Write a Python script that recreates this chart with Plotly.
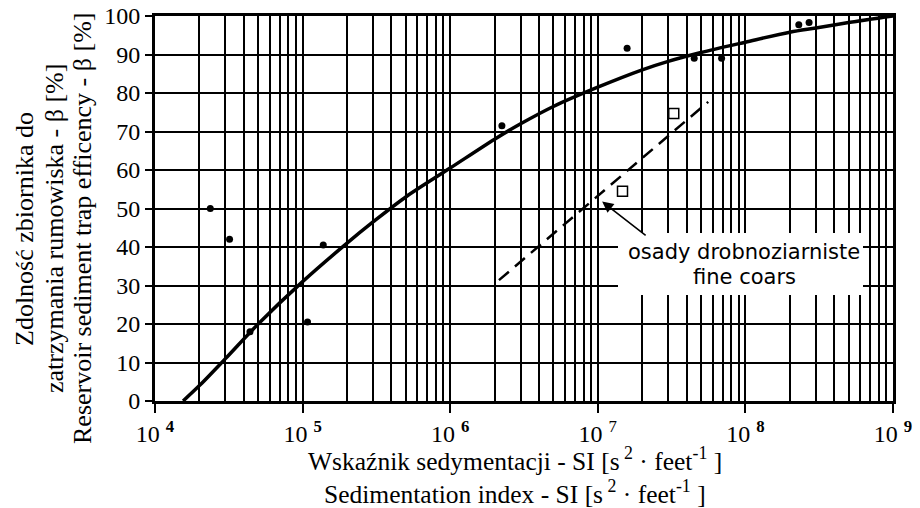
import math
import plotly.graph_objects as go

# ---- data ----
curve_x = [1.55e4, 2e4, 3e4, 5e4, 1e5, 2e5, 3e5, 5e5, 1e6, 2e6, 3e6, 5e6,
           1e7, 2e7, 3e7, 5e7, 1e8, 2e8, 3e8, 5e8, 1e9]
curve_y = [0, 4, 11, 20, 31, 41, 46.5, 53, 60.5, 68, 72, 76.5,
           81.5, 86, 88.2, 90.5, 93.2, 95.8, 96.9, 98.3, 100]

dots_x = [2.37e4, 3.2e4, 4.4e4, 1.08e5, 1.38e5, 2.24e6, 1.58e7, 4.5e7, 6.9e7, 2.3e8, 2.7e8]
dots_y = [50, 42, 18, 20.5, 40.5, 71.5, 91.6, 89, 89, 97.7, 98.3]

squares_x = [1.47e7, 3.27e7]
squares_y = [54.5, 74.7]

dashed_x = [2.14e6, 5.6e7]
dashed_y = [31.4, 77.7]

decades = [1e4, 1e5, 1e6, 1e7, 1e8, 1e9]
decade_labels = ["10 <sup><b>4</b></sup>", "10 <sup><b>5</b></sup>", "10 <sup><b>6</b></sup>",
                 "10 <sup>7</sup>", "10 <sup><b>8</b></sup>", "10 <sup><b>9</b></sup>"]
minor_x = [m * d for d in decades[:-1] for m in range(2, 10)]
y_ticks = list(range(0, 101, 10))

arrow_head = (1.07e7, 51.8)

SERIF = "Liberation Serif, Times New Roman, serif"
SANS = "DejaVu Sans, Arial, sans-serif"

fig = go.Figure()

fig.add_trace(go.Scatter(x=curve_x, y=curve_y, mode="lines",
                         line=dict(color="black", width=3.5, shape="spline", smoothing=0.9),
                         hoverinfo="skip"))
fig.add_trace(go.Scatter(x=dashed_x, y=dashed_y, mode="lines",
                         line=dict(color="black", width=2.5, dash="13px,8px"), hoverinfo="skip"))
fig.add_trace(go.Scatter(x=dots_x, y=dots_y, mode="markers",
                         marker=dict(color="black", size=7, symbol="circle")))
fig.add_trace(go.Scatter(x=squares_x, y=squares_y, mode="markers",
                         marker=dict(color="black", size=10, symbol="square-open",
                                     line=dict(width=1.5, color="black"))))

# white label box over the grid
fig.add_shape(type="rect", xref="paper", yref="paper",
              x0=(618 - 155) / 738, x1=(863 - 155) / 738,
              y0=(401 - 295) / 385, y1=(401 - 233) / 385,
              fillcolor="white", line=dict(width=0), layer="above")

fig.add_annotation(xref="paper", yref="paper", x=(744 - 155) / 738, y=(401 - 251.7) / 385,
                   text="osady drobnoziarniste", showarrow=False,
                   font=dict(family=SANS, size=21, color="black"),
                   xanchor="center", yanchor="middle")
fig.add_annotation(xref="paper", yref="paper", x=(744 - 155) / 738, y=(401 - 276.7) / 385,
                   text="fine coars", showarrow=False,
                   font=dict(family=SANS, size=21, color="black"),
                   xanchor="center", yanchor="middle")
fig.add_annotation(x=math.log10(arrow_head[0]), y=arrow_head[1], xref="x", yref="y",
                   text="", showarrow=True, ax=45, ay=35,
                   arrowhead=2, arrowsize=1.4, arrowwidth=1.6, arrowcolor="black")

# axis titles
fig.add_annotation(xref="paper", yref="paper", x=(515 - 155) / 738, y=(401 - 459) / 385,
                   text="Wskaźnik sedymentacji - SI [s<sup> 2</sup> · feet<sup>-1</sup> ]",
                   showarrow=False, font=dict(family=SERIF, size=25.5, color="black"),
                   xanchor="center", yanchor="middle")
fig.add_annotation(xref="paper", yref="paper", x=(515 - 155) / 738, y=(401 - 492) / 385,
                   text="Sedimentation index - SI [s<sup> 2</sup> · feet<sup>-1</sup> ]",
                   showarrow=False, font=dict(family=SERIF, size=25.5, color="black"),
                   xanchor="center", yanchor="middle")
for txt, px in [("Zdolność zbiornika do", 24),
                ("zatrzymania rumowiska - β [%]", 54),
                ("Reservoir sediment trap efficency - β [%]", 82)]:
    fig.add_annotation(xref="paper", yref="paper", x=(px - 155) / 738, y=(401 - 229) / 385,
                       text=txt, textangle=-90, showarrow=False,
                       font=dict(family=SERIF, size=26, color="black"),
                       xanchor="center", yanchor="middle")

fig.update_layout(
    width=920, height=508,
    margin=dict(l=155, r=27, t=16, b=107),
    paper_bgcolor="white", plot_bgcolor="white",
    showlegend=False,
    xaxis=dict(type="log", range=[4, 9], tickmode="array", tickvals=decades,
               ticktext=decade_labels, ticks="outside", ticklen=9, tickwidth=2,
               tickcolor="black", showgrid=True, gridcolor="black", gridwidth=2,
               showline=True, linecolor="black", linewidth=3, mirror=True,
               tickfont=dict(family=SERIF, size=24, color="black"),
               zeroline=False, automargin=False,
               minor=dict(tickmode="array", tickvals=minor_x, showgrid=True,
                          gridcolor="black", gridwidth=2, ticks="")),
    yaxis=dict(range=[0, 100], tickmode="array", tickvals=y_ticks,
               ticks="outside", ticklen=7, tickwidth=2, tickcolor="black",
               showgrid=True, gridcolor="black", gridwidth=2,
               showline=True, linecolor="black", linewidth=3, mirror=True,
               tickfont=dict(family=SERIF, size=24, color="black"),
               zeroline=False, automargin=False),
)

fig.write_html("out.html",
               config={"displayModeBar": False},
               post_script="document.body.style.margin='0';document.body.style.padding='0';")
